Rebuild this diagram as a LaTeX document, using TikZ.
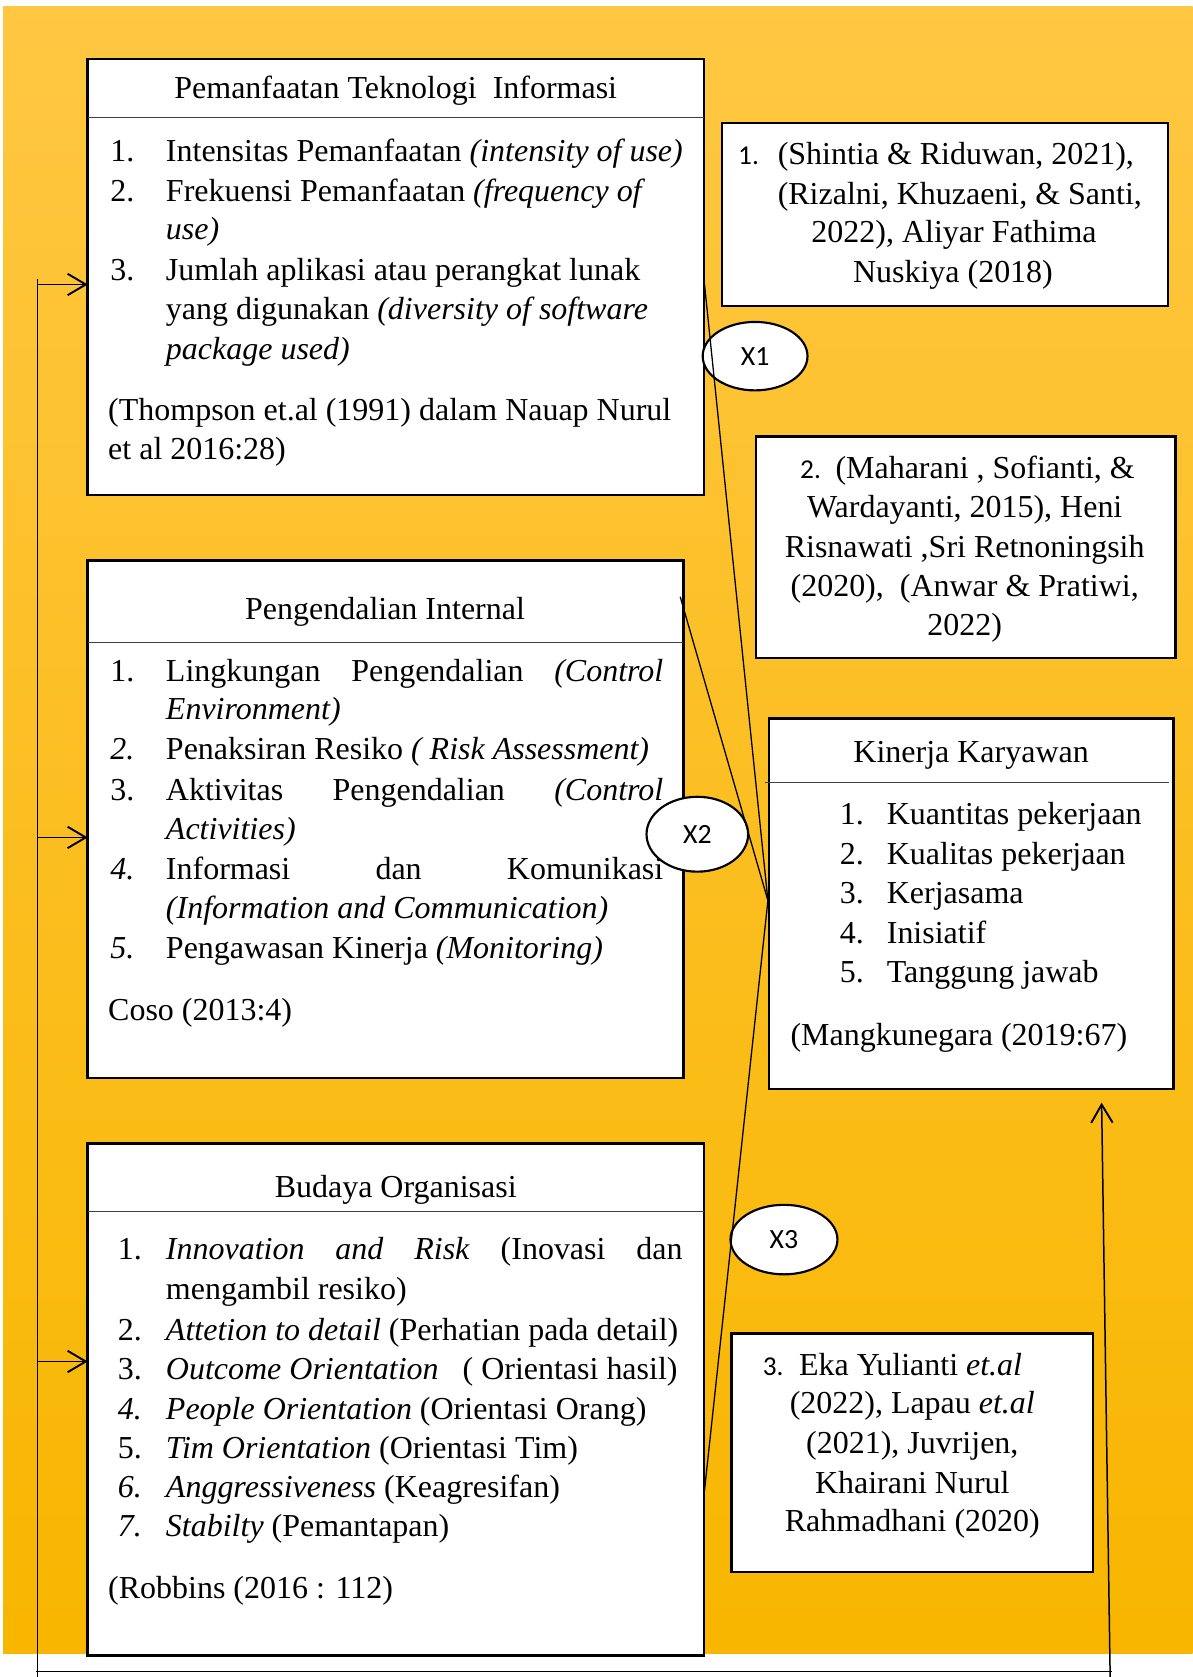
\documentclass[tikz,border=0pt]{standalone}
\usepackage{fontspec}
\setmainfont{Liberation Serif}
\newfontfamily\calib{Carlito}
\usetikzlibrary{shapes.geometric,arrows.meta}
\newcommand\mytnr{\fontsize{29.9}{37}\selectfont}
\newcommand\mycal{\calib\fontsize{25.5}{30}\selectfont}
\definecolor{bgtop}{RGB}{255,199,66}
\definecolor{bgmid}{RGB}{254,194,16}
\definecolor{bgbot}{RGB}{248,182,0}
\begin{document}
\begin{tikzpicture}[x=1pt,y=-1pt,
  box/.style={draw=black, line width=2.3pt, fill=white, anchor=north west, inner sep=0pt, outer sep=0pt},
  divider/.style={draw=black!75, line width=1.1pt},
  lt/.style={inner sep=0pt, anchor=base west, font=\mytnr},
  ct/.style={inner sep=0pt, anchor=base, font=\mytnr},
  num/.style={inner sep=0pt, anchor=base west, font=\mycal},
  ell/.style={ellipse, draw=black, line width=2pt, fill=white, inner sep=0pt, font=\calib\fontsize{26}{30}\selectfont},
  conn/.style={draw=black, line width=1.2pt},
  arr/.style={draw=black, line width=1.4pt, -{Straight Barb[length=17pt,width=20pt,line width=1.8pt]}},
  plain/.style={draw=black, line width=1.4pt}
]
\useasboundingbox (0,0) rectangle (1115,1568);
\shade[top color=bgtop, middle color=bgmid, bottom color=bgbot] (3,6) rectangle (1115,1546);

% boxes
\node[box, minimum width=576pt, minimum height=408pt] (b1) at (82,55) {};
\node[box, minimum width=417pt, minimum height=171pt] (r1) at (675,115) {};
\node[box, minimum width=392pt, minimum height=207pt] (r2) at (707,408) {};
\node[box, minimum width=557pt, minimum height=484pt] (b2) at (82,524) {};
\node[box, minimum width=378pt, minimum height=346pt] (kin) at (719,672) {};
\node[box, minimum width=576pt, minimum height=479pt] (b3) at (82,1069) {};
\node[box, minimum width=338pt, minimum height=223pt] (r3) at (684,1247) {};

% dividers
\coordinate (d1) at (0,110);
\coordinate (d2) at (0,601);
\coordinate (d3) at (0,1133);
\coordinate (dk1) at (715,732);
\coordinate (dk2) at (1093,732);
\draw[divider] (b1.west |- d1) -- (b1.east |- d1);
\draw[divider] (b2.west |- d2) -- (b2.east |- d2);
\draw[divider] (b3.west |- d3) -- (b3.east |- d3);
\draw[divider] (dk1) -- (dk2);

% left feedback line and arrows
\coordinate (ltop) at (35,261);
\coordinate (lbot) at (35,1568);
\coordinate (a1) at (35,266);
\coordinate (a2) at (35,783);
\coordinate (a3) at (35,1273);
\draw[plain] (ltop) -- (lbot);
\draw[arr] (a1) -- (a1 -| b1.west);
\draw[arr] (a2) -- (a2 -| b2.west);
\draw[arr] (a3) -- (a3 -| b3.west);
\coordinate (hb1) at (34,1563);
\coordinate (hb2) at (1040,1563);
\draw[plain] (hb1) -- (hb2);
\coordinate (rbot) at (1038,1568);
\coordinate (rtop) at (1030,1031);
\draw[arr] (rbot) -- (rtop);

% ellipses
\node[ell, minimum width=98pt, minimum height=64pt] (x1) at (706,333) {X1};
\node[ell, minimum width=95pt, minimum height=70pt] (x2) at (652,780) {X2};
\node[ell, minimum width=100pt, minimum height=65pt] (x3) at (733,1159) {X3};

% connectors
\coordinate (conv) at (718,842);
\coordinate (c1) at (658,259);
\coordinate (c2) at (636,558);
\coordinate (c3) at (658,1400);
\draw[conn] (c1) -- (conv);
\draw[conn] (c2) -- (conv);
\draw[conn] (c3) -- (conv);

% box 1 text
\node[ct] (b1h) at (370,92) {Pemanfaatan Teknologi\ \ Informasi};
\node[lt] (b1n1) at (103,151) {1.};
\node[lt] (b1t1) at (155,151) {Intensitas Pemanfaatan \textit{(intensity of use)}};
\node[lt] (b1n2) at (103,188) {2.};
\node[lt] (b1t2) at (155,188) {Frekuensi Pemanfaatan \textit{(frequency of}};
\node[lt] (b1t2b) at (155,224) {\textit{use)}};
\node[lt] (b1n3) at (103,262) {3.};
\node[lt] (b1t3) at (155,262) {Jumlah aplikasi atau perangkat lunak};
\node[lt] (b1t3b) at (155,299) {yang digunakan \textit{(diversity of software}};
\node[lt] (b1t3c) at (155,336) {\textit{package used)}};
\node[lt] (b1s1) at (101,393) {(Thompson et.al (1991) dalam Nauap Nurul};
\node[lt] (b1s2) at (101,430) {et al 2016:28)};

% refs 1
\node[num] (r1n) at (690,154) {1.};
\node[lt] (r1t1) at (727,154) {(Shintia \& Riduwan, 2021),};
\node[lt] (r1t2) at (727,191) {(Rizalni, Khuzaeni, \& Santi,};
\node[ct] (r1t3) at (892,227) {2022), Aliyar Fathima};
\node[ct] (r1t4) at (891,264) {Nuskiya (2018)};

% refs 2
\node[num] (r2n) at (748,447) {2.};
\node[lt] (r2t1) at (781,447) {(Maharani , Sofianti, \&};
\node[ct] (r2t2) at (902,484) {Wardayanti, 2015), Heni};
\node[ct] (r2t3) at (902,521) {Risnawati ,Sri Retnoningsih};
\node[ct] (r2t4) at (902,558) {(2020),\ \ (Anwar \& Pratiwi,};
\node[ct] (r2t5) at (902,594) {2022)};

% box 2 text
\node[ct] (b2h) at (360,579) {Pengendalian Internal};
\node[lt] (b2n1) at (103,637) {1.};
\node[lt] (b2t1) at (155,637) {\hbox to 465pt{Lingkungan\hfill Pengendalian\hfill\textit{(Control}}};
\node[lt] (b2t1b) at (155,673) {\textit{Environment)}};
\node[lt] (b2n2) at (103,710) {\textit{2.}};
\node[lt] (b2t2) at (155,710) {Penaksiran Resiko \textit{( Risk Assessment)}};
\node[lt] (b2n3) at (103,748) {3.};
\node[lt] (b2t3) at (155,748) {\hbox to 465pt{Aktivitas\hfill Pengendalian\hfill\textit{(Control}}};
\node[lt] (b2t3b) at (155,785) {\textit{Activities)}};
\node[lt] (b2n4) at (103,822) {\textit{4.}};
\node[lt] (b2t4) at (155,822) {\hbox to 465pt{Informasi\hfill dan\hfill Komunikasi}};
\node[lt] (b2t4b) at (155,859) {\textit{(Information and Communication)}};
\node[lt] (b2n5) at (103,896) {\textit{5.}};
\node[lt] (b2t5) at (155,896) {Pengawasan Kinerja \textit{(Monitoring)}};
\node[lt] (b2s) at (101,954) {Coso (2013:4)};

% kinerja text
\node[ct] (kh) at (908,713) {Kinerja Karyawan};
\node[lt] (kn1) at (785,771) {1.};
\node[lt] (kt1) at (829,771) {Kuantitas pekerjaan};
\node[lt] (kn2) at (785,808) {2.};
\node[lt] (kt2) at (829,808) {Kualitas pekerjaan};
\node[lt] (kn3) at (785,845) {3.};
\node[lt] (kt3) at (829,845) {Kerjasama};
\node[lt] (kn4) at (785,882) {4.};
\node[lt] (kt4) at (829,882) {Inisiatif};
\node[lt] (kn5) at (785,919) {5.};
\node[lt] (kt5) at (829,919) {Tanggung jawab};
\node[lt] (ks) at (739,978) {(Mangkunegara (2019:67)};

% box 3 text
\node[ct] (b3h) at (370,1120) {Budaya Organisasi};
\node[lt] (b3n1) at (110,1178) {1.};
\node[lt] (b3t1) at (155,1178) {\hbox to 483pt{\textit{Innovation}\hfill\textit{and}\hfill\textit{Risk}\hfill(Inovasi\hfill dan}};
\node[lt] (b3t1b) at (155,1215) {mengambil resiko)};
\node[lt] (b3n2) at (110,1253) {2.};
\node[lt] (b3t2) at (155,1253) {\textit{Attetion to detail} (Perhatian pada detail)};
\node[lt] (b3n3) at (110,1290) {3.};
\node[lt] (b3t3) at (155,1290) {\textit{Outcome Orientation}\ \ \ ( Orientasi hasil)};
\node[lt] (b3n4) at (110,1327) {\textit{4.}};
\node[lt] (b3t4) at (155,1327) {\textit{People Orientation} (Orientasi Orang)};
\node[lt] (b3n5) at (110,1364) {5.};
\node[lt] (b3t5) at (155,1364) {\textit{Tim Orientation} (Orientasi Tim)};
\node[lt] (b3n6) at (110,1400) {\textit{6.}};
\node[lt] (b3t6) at (155,1400) {\textit{Anggressiveness} (Keagresifan)};
\node[lt] (b3n7) at (110,1437) {\textit{7.}};
\node[lt] (b3t7) at (155,1437) {\textit{Stabilty} (Pemantapan)};
\node[lt] (b3s) at (101,1495) {(Robbins (2016 : 112)};

% refs 3
\node[num] (r3n) at (713,1286) {3.};
\node[lt] (r3t1) at (747,1286) {Eka Yulianti \textit{et.al}};
\node[ct] (r3t2) at (853,1322) {(2022), Lapau \textit{et.al}};
\node[ct] (r3t3) at (853,1359) {(2021), Juvrijen,};
\node[ct] (r3t4) at (853,1396) {Khairani Nurul};
\node[ct] (r3t5) at (853,1432) {Rahmadhani (2020)};
\end{tikzpicture}
\end{document}
